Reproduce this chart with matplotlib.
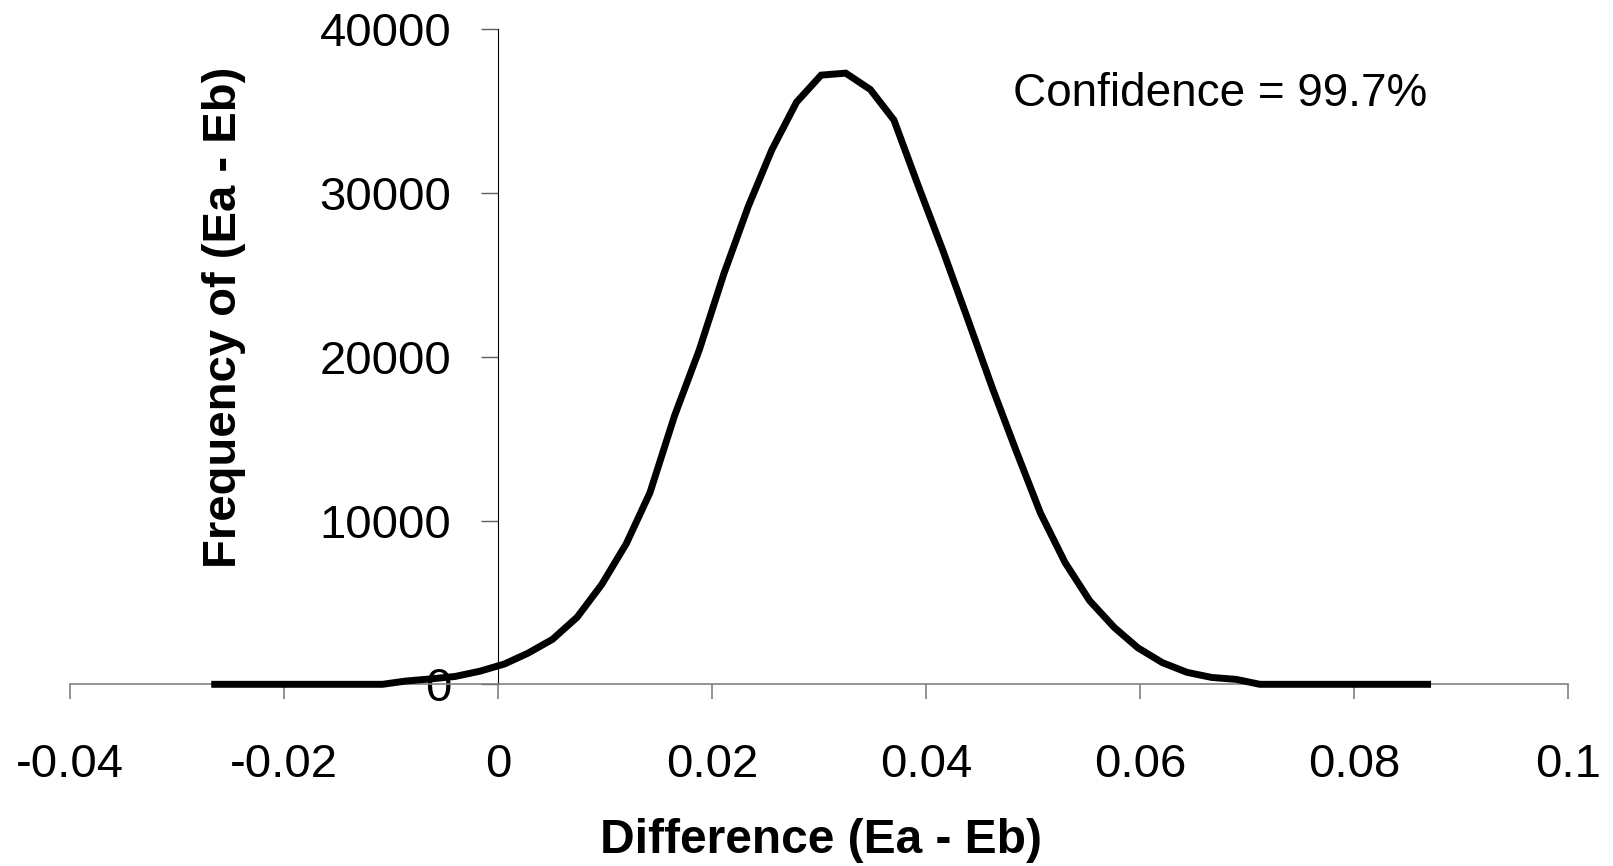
import matplotlib
matplotlib.use('Agg')
import matplotlib.pyplot as plt
from matplotlib.ticker import FixedLocator, FixedFormatter

plt.rcParams['font.family'] = ['Liberation Sans', 'DejaVu Sans']

# difference bins (Ea - Eb) and their frequencies
diff = [-0.0268, -0.0245, -0.0222, -0.0200, -0.0177, -0.0154, -0.0131, -0.0108,
        -0.0086, -0.0063, -0.0040, -0.0017, 0.0006, 0.0028, 0.0051, 0.0074,
        0.0097, 0.0120, 0.0142, 0.0165, 0.0188, 0.0211, 0.0234, 0.0256,
        0.0279, 0.0302, 0.0325, 0.0348, 0.0370, 0.0393, 0.0416, 0.0439,
        0.0462, 0.0484, 0.0507, 0.0530, 0.0553, 0.0576, 0.0598, 0.0621,
        0.0644, 0.0667, 0.0690, 0.0712, 0.0735, 0.0758, 0.0781, 0.0804,
        0.0826, 0.0849, 0.0872]
freq = [0, 0, 0, 0, 0, 0, 0, 0,
        200, 330, 480, 800, 1240, 1900, 2750, 4100,
        6100, 8600, 11700, 16400, 20400, 25050, 29200, 32650,
        35550, 37200, 37320, 36320, 34460, 30400, 26450, 22300,
        18100, 14300, 10450, 7430, 5100, 3470, 2230, 1320,
        730, 420, 300, 0, 0, 0, 0, 0,
        0, 0, 0]

x_ticks = [-0.04, -0.02, 0, 0.02, 0.04, 0.06, 0.08, 0.1]
x_labels = ['-0.04', '-0.02', '0', '0.02', '0.04', '0.06', '0.08', '0.1']
y_ticks = [0, 10000, 20000, 30000, 40000]
y_labels = ['0', '10000', '20000', '30000', '40000']

fig = plt.figure(figsize=(16.13, 8.66), dpi=100)
ax = fig.add_axes([0.0434, 0.2098, 0.9287, 0.7564])

ax.plot(diff, freq, color='black', linewidth=5, solid_capstyle='butt',
        solid_joinstyle='miter', clip_on=False, zorder=3)

ax.set_xlim(-0.04, 0.1)
ax.set_ylim(0, 40000)

ax.spines['top'].set_visible(False)
ax.spines['right'].set_visible(False)
ax.spines['left'].set_position(('data', 0))
ax.spines['left'].set_color('black')
ax.spines['left'].set_linewidth(0.8)
ax.spines['bottom'].set_color('#808080')
ax.spines['bottom'].set_linewidth(1.2)

ax.xaxis.set_major_locator(FixedLocator(x_ticks))
ax.xaxis.set_major_formatter(FixedFormatter(x_labels))
ax.yaxis.set_major_locator(FixedLocator(y_ticks))
ax.yaxis.set_major_formatter(FixedFormatter(y_labels))

ax.tick_params(axis='x', direction='out', length=11, width=1.2, color='#808080',
               labelsize=34, pad=31)
ax.tick_params(axis='y', direction='out', length=12, width=1.0, color='#606060',
               labelsize=34, pad=21.5)

ax.text(0.0481, 36050, 'Confidence = 99.7%', fontsize=33, va='center', ha='left')

fig.text(0.509, 0.0296, 'Difference (Ea - Eb)', fontsize=34.5, fontweight='bold',
         ha='center', va='center')
fig.text(0.1389, 0.634, 'Frequency of (Ea - Eb)', fontsize=34, fontweight='bold',
         ha='center', va='center', rotation=90)

fig.savefig('out.png', dpi=100)
